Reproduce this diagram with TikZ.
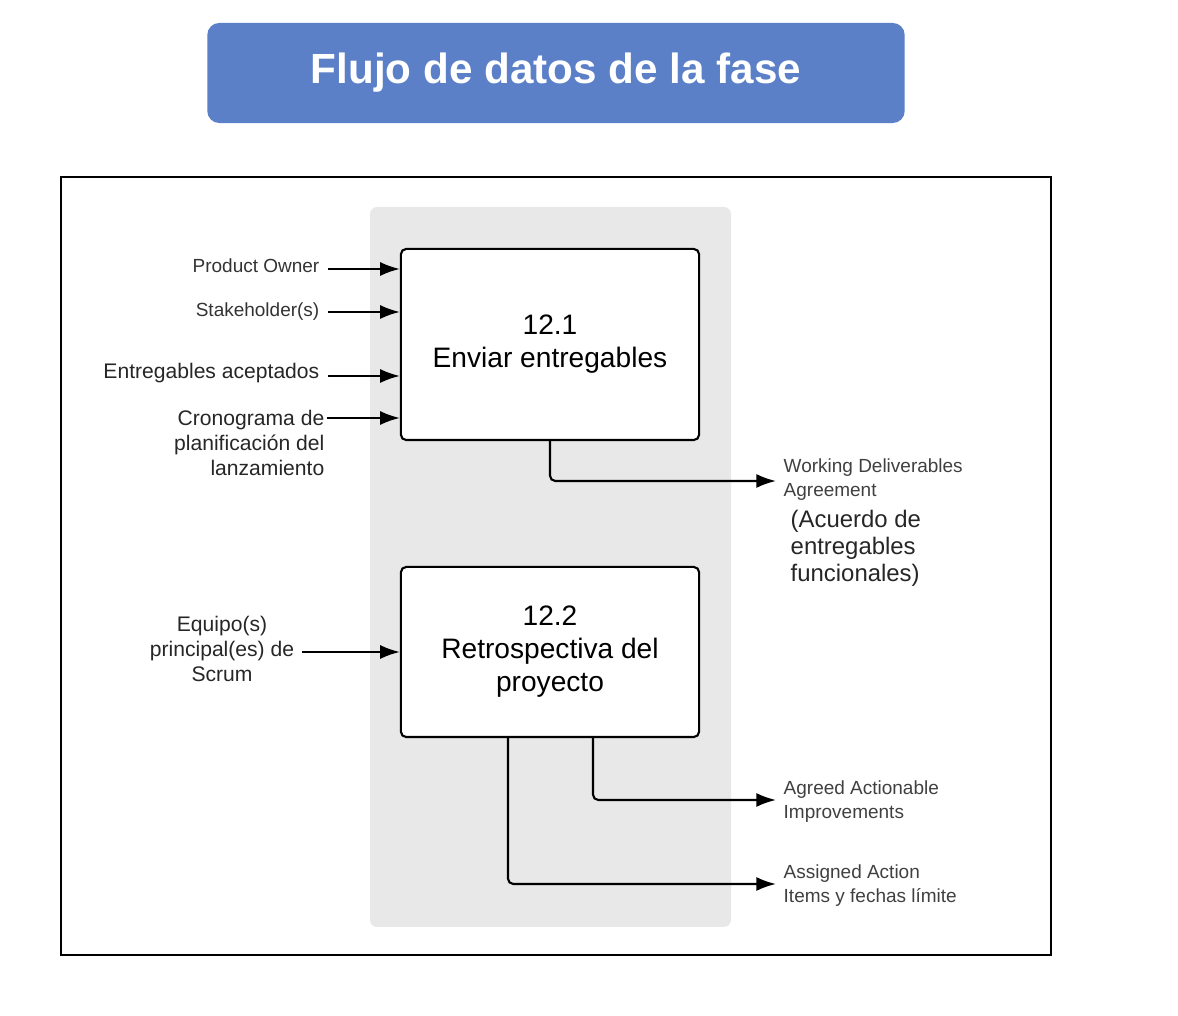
\documentclass[tikz,border=0pt]{standalone}
\usepackage{fontspec}
\setmainfont{Liberation Sans}
\usetikzlibrary{positioning, arrows.meta, backgrounds}
\definecolor{titleblue}{RGB}{91,128,199}
\definecolor{bandgray}{RGB}{232,232,232}

\begin{document}
\begin{tikzpicture}[x=0.01cm, y=-0.01cm]

\tikzstyle{title_style} = [fill=titleblue, rounded corners=3.4pt, minimum width=6.97cm, minimum height=1cm, text=white, font=\fontsize{12}{14}\selectfont\bfseries]

\tikzstyle{box_style} = [draw=black, line width=0.6pt, rounded corners=1.5pt, fill=white, minimum width=2.98cm, align=center, font=\fontsize{8}{9.4}\selectfont]

\tikzstyle{in_style} = [inner sep=0pt, align=right, text=black!80, font=\fontsize{5.4}{6.8}\selectfont]

\tikzstyle{in_style2} = [inner sep=0pt, align=right, text=black!85, font=\fontsize{6}{7}\selectfont]

\tikzstyle{out_style} = [inner sep=0pt, anchor=west, align=left, text=black!75, font=\fontsize{5.4}{6.8}\selectfont]

\tikzstyle{edge_style} = [draw=black, line width=0.6pt, rounded corners=1.5pt, -{Latex[length=5.6pt, width=4pt]}]

\useasboundingbox (0,0) rectangle (1178,1016);

% title and frame
\node[title_style] (title) at (556,73) {Flujo de datos de la fase};
\draw[line width=0.75pt] (61,177) rectangle (1051,955);
\fill[bandgray, rounded corners=2pt] (370,207) rectangle (731,927);

% processes
\node[box_style, minimum height=1.91cm] (p1) at (550,344.5) {12.1\\Enviar entregables};
\node[box_style, minimum height=1.70cm] (p2) at (550,652) {12.2\\Retrospectiva del\\proyecto};

% inputs
\node[in_style, anchor=east] (po) at (320,266) {Product Owner};
\node[in_style, anchor=east] (sh) at (320,312) {Stakeholder(s)};
\node[in_style2, anchor=east] (ea) at (320,373) {Entregables aceptados};
\node[in_style2, anchor=east] (cr) at (325,443) {Cronograma de\\planificación del\\lanzamiento};
\node[in_style2, align=center] (eq) at (222,649) {Equipo(s)\\principal(es) de\\Scrum};

\coordinate (po_in) at (328,269);
\coordinate (sh_in) at (328,312);
\coordinate (ea_in) at (328,376);
\coordinate (cr_in) at (327,418);
\coordinate (eq_in) at (302,652);

\draw[edge_style]  (po_in) -- (po_in -| p1.west);
\draw[edge_style]  (sh_in) -- (sh_in -| p1.west);
\draw[edge_style]  (ea_in) -- (ea_in -| p1.west);
\draw[edge_style]  (cr_in) -- (cr_in -| p1.west);
\draw[edge_style]  (eq_in) -- (eq_in -| p2.west);

% outputs
\node[out_style] (wd) at (783,480) {Working Deliverables\\Agreement};
\node[out_style, text=black!85, font=\fontsize{6.8}{7.7}\selectfont] (ac) at (790,548) {(Acuerdo de\\entregables\\funcionales)};
\node[out_style] (ai) at (783,802) {Agreed Actionable\\Improvements};
\node[out_style] (aa) at (783,886) {Assigned Action\\Items y fechas límite};

\coordinate (wd_end) at (776,481);
\coordinate (ai_end) at (776,800);
\coordinate (aa_end) at (776,884);

\draw[edge_style]  (p1.south) |- (wd_end);
\draw[edge_style]  ([xshift=0.43cm]p2.south) |- (ai_end);
\draw[edge_style]  ([xshift=-0.42cm]p2.south) |- (aa_end);

\end{tikzpicture}
\end{document}
